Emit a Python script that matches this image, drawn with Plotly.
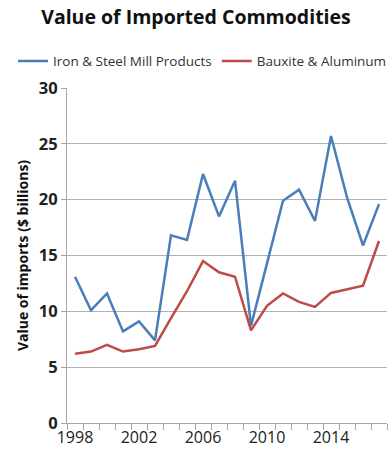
import plotly.graph_objects as go

years = list(range(1998, 2018))
iron_steel = [13.1, 10.1, 11.6, 8.2, 9.1, 7.4, 16.8, 16.4, 22.3, 18.5, 21.7, 8.7,
              14.3, 19.9, 20.9, 18.1, 25.7, 20.2, 15.9, 19.6]
bauxite_al = [6.2, 6.4, 7.0, 6.4, 6.6, 6.9, 9.4, 11.8, 14.5, 13.5, 13.1, 8.3,
              10.5, 11.6, 10.85, 10.4, 11.65, 12.0, 12.3, 16.3]
x_tick_years = [1998, 2002, 2006, 2010, 2014]

fig = go.Figure()
fig.add_trace(go.Scatter(x=years, y=iron_steel, mode="lines",
                         name="Iron & Steel Mill Products",
                         line=dict(color="#4a7ebb", width=2.5)))
fig.add_trace(go.Scatter(x=years, y=bauxite_al, mode="lines",
                         name="Bauxite & Aluminum",
                         line=dict(color="#be4b48", width=2.5)))

boundaries = [y - 0.5 for y in years] + [years[-1] + 0.5]

fig.update_layout(
    width=392, height=456,
    margin=dict(l=67, r=5, t=88, b=33),
    paper_bgcolor="white", plot_bgcolor="white",
    font=dict(family="Open Sans, Lato, sans-serif", color="#222222"),
    title=dict(text="<b>Value of Imported Commodities</b>",
               x=0.5, xanchor="center", y=0.962, yanchor="middle",
               font=dict(size=19.5, color="#111111")),
    legend=dict(orientation="h", x=-0.165, xanchor="left", y=1.08, yanchor="middle",
                font=dict(size=13.5, color="#333333"), itemwidth=30,
                tracegroupgap=0, bgcolor="rgba(0,0,0,0)"),
    showlegend=True,
)
fig.update_xaxes(
    range=[years[0] - 0.5, years[-1] + 0.5],
    tickvals=x_tick_years, ticktext=[str(v) for v in x_tick_years],
    ticks="", showgrid=False, zeroline=False,
    showline=True, linecolor="#a6a6a6", linewidth=1,
    tickfont=dict(size=16, color="#222222"),
    minor=dict(tickvals=boundaries, ticks="outside", ticklen=6,
               tickcolor="#a6a6a6", showgrid=False),
)
fig.update_yaxes(
    range=[0, 30], dtick=5, showgrid=True, gridcolor="#b0b0b0", gridwidth=1,
    zeroline=False, showline=True, linecolor="#a6a6a6", linewidth=1,
    ticks="outside", ticklen=5, tickcolor="#a6a6a6",
    tickfont=dict(size=16.5, color="#222222", family="Open Sans, sans-serif"),
    tickprefix="<b>", ticksuffix="</b>",
    title=dict(text="<b>Value of imports ($ billions)</b>",
               font=dict(size=14, color="#111111"), standoff=6),
)

fig.write_html("out.html")
